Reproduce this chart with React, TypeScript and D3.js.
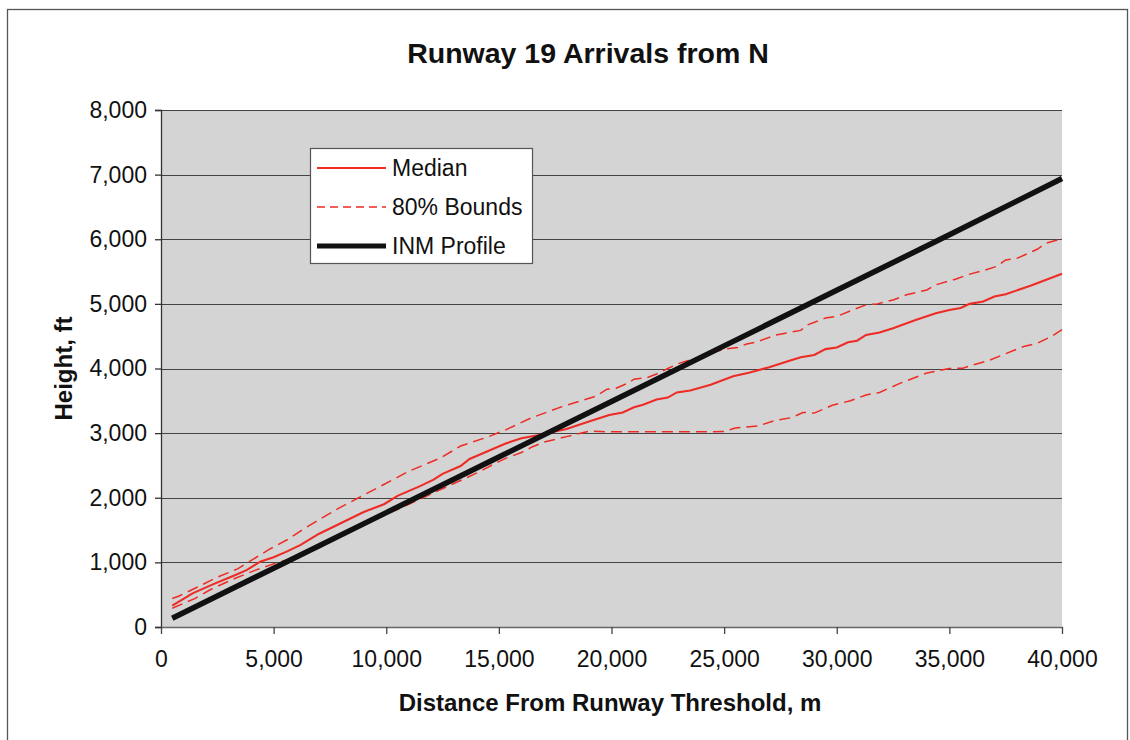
import React, { useEffect, useRef } from "react";
import * as d3 from "d3";

// distance from threshold (m), height (ft)
const median: [number, number][] = [
  [500, 330], [1400, 520], [2300, 660], [3200, 790], [3800, 880], [4400, 1010],
  [5000, 1080], [5600, 1170], [6200, 1270], [7000, 1440], [8000, 1610], [9000, 1780],
  [9900, 1900], [10500, 2030], [11500, 2180], [12100, 2280], [12500, 2370], [13300, 2490],
  [13700, 2600], [14500, 2720], [15300, 2840], [16000, 2920], [16800, 2970], [18000, 3065],
  [19000, 3180], [19900, 3280], [20500, 3320], [21000, 3400], [21400, 3440], [22000, 3520],
  [22500, 3550], [22900, 3630], [23500, 3660], [24400, 3750], [25400, 3880], [26100, 3935],
  [27000, 4020], [27900, 4120], [28400, 4175], [29000, 4210], [29500, 4300], [30000, 4325],
  [30500, 4405], [30900, 4430], [31300, 4520], [31900, 4556], [32500, 4624], [33500, 4750],
  [34400, 4855], [35000, 4905], [35500, 4935], [35900, 5000], [36500, 5036], [37000, 5113],
  [37500, 5150], [38600, 5280], [40000, 5465],
];

const upper: [number, number][] = [
  [500, 440], [800, 480], [1600, 615], [2500, 770], [3400, 900], [4100, 1050],
  [4800, 1200], [5600, 1350], [6300, 1510], [6800, 1615], [7900, 1840], [9700, 2170],
  [11000, 2410], [12400, 2615], [13300, 2800], [14500, 2940], [15300, 3050], [16400, 3230],
  [17800, 3410], [19300, 3570], [19800, 3680], [20200, 3695], [20700, 3770], [21000, 3835],
  [21600, 3860], [22000, 3915], [22500, 4000], [23000, 4080], [24000, 4190], [25000, 4300],
  [25600, 4325], [26000, 4380], [26400, 4405], [27300, 4520], [28400, 4590], [28700, 4675],
  [29500, 4780], [30000, 4805], [30700, 4905], [31300, 4985], [31800, 5000], [32500, 5060],
  [33100, 5140], [34000, 5215], [34400, 5295], [35300, 5385], [35800, 5450], [36500, 5515],
  [37100, 5580], [37500, 5680], [38000, 5705], [38900, 5845], [39300, 5940], [40000, 6010],
];

const lower: [number, number][] = [
  [500, 290], [1500, 440], [2200, 580], [3200, 740], [4200, 880], [5100, 990],
  [5900, 1070], [7000, 1220], [8000, 1400], [9000, 1580], [10000, 1740], [11000, 1900],
  [12000, 2060], [13000, 2220], [14000, 2380], [15000, 2560], [15300, 2610], [16000, 2700],
  [16500, 2790], [17000, 2860], [18000, 2946], [19000, 3030], [20000, 3020], [22000, 3020],
  [24000, 3020], [25000, 3025], [25500, 3080], [26500, 3110], [27200, 3190], [28000, 3240],
  [28500, 3320], [29000, 3310], [29800, 3430], [30600, 3500], [31300, 3590], [31900, 3630],
  [32800, 3770], [34000, 3930], [35000, 4000], [35600, 4005], [36000, 4050], [36800, 4130],
  [37500, 4230], [38300, 4340], [38900, 4390], [39500, 4490], [40000, 4600],
];

const inmProfile: [number, number][] = [
  [500, 136], [5000, 910], [10000, 1770], [15000, 2630], [20000, 3490],
  [25000, 4350], [30000, 5210], [35000, 6070], [40000, 6940],
];

const xTicks = [0, 5000, 10000, 15000, 20000, 25000, 30000, 35000, 40000];
const yTicks = [0, 1000, 2000, 3000, 4000, 5000, 6000, 7000, 8000];

const legendItems = [
  { label: "Median", color: "#ee2b24", width: 1.8, dash: "" },
  { label: "80% Bounds", color: "#ee2b24", width: 1.3, dash: "8,5" },
  { label: "INM Profile", color: "#111", width: 5, dash: "" },
];

const App: React.FC = () => {
  const svgRef = useRef<SVGSVGElement | null>(null);

  useEffect(() => {
    if (!svgRef.current) return;
    const width = 1130;
    const height = 740;
    const margin = { top: 110, right: 68, bottom: 113, left: 161 };
    const font = "'Liberation Sans', Arial, sans-serif";

    d3.select(svgRef.current).selectAll("*").remove();
    const svg = d3.select(svgRef.current)
      .attr("width", width)
      .attr("height", height)
      .style("font-family", font);

    svg.append("rect").attr("width", width).attr("height", height).attr("fill", "#fff");
    // outer chart border
    svg.append("rect")
      .attr("x", 7.5).attr("y", 9.5)
      .attr("width", 1120).attr("height", 740)
      .attr("fill", "none").attr("stroke", "#555").attr("stroke-width", 1.3);

    const x = d3.scaleLinear().domain([0, 40000]).range([margin.left, width - margin.right]);
    const y = d3.scaleLinear().domain([0, 8000]).range([height - margin.bottom, margin.top]);

    svg.append("rect")
      .attr("x", x(0)).attr("y", y(8000))
      .attr("width", x(40000) - x(0)).attr("height", y(0) - y(8000))
      .attr("fill", "#d4d4d4");

    // gridlines
    svg.append("g")
      .selectAll("line")
      .data(yTicks.filter((d) => d > 0))
      .enter()
      .append("line")
      .attr("x1", x(0)).attr("x2", x(40000))
      .attr("y1", (d) => Math.round(y(d)) + 0.5).attr("y2", (d) => Math.round(y(d)) + 0.5)
      .attr("stroke", "#444").attr("stroke-width", 1.1);

    const fmt = d3.format(",");

    // y axis
    const yAxis = svg.append("g")
      .attr("transform", `translate(${x(0)},0)`)
      .call(d3.axisLeft(y).tickValues(yTicks).tickFormat((d) => fmt(d as number)).tickSize(6).tickPadding(8));
    yAxis.select(".domain").attr("stroke", "#333").attr("stroke-width", 1.3);
    yAxis.selectAll(".tick line").attr("stroke", "#333").attr("stroke-width", 1.3);
    yAxis.selectAll("text").attr("font-size", 23).attr("fill", "#111").attr("font-family", font);

    // x axis
    const xAxis = svg.append("g")
      .attr("transform", `translate(0,${y(0)})`)
      .call(d3.axisBottom(x).tickValues(xTicks).tickFormat((d) => fmt(d as number)).tickSize(7).tickSizeOuter(0).tickPadding(17));
    xAxis.select(".domain").attr("stroke", "#666").attr("stroke-width", 1.5);
    xAxis.selectAll(".tick line").attr("stroke", "#444").attr("stroke-width", 1.3);
    xAxis.selectAll("text").attr("font-size", 23).attr("fill", "#111").attr("font-family", font);

    const line = d3.line<[number, number]>()
      .x((d) => x(d[0]))
      .y((d) => y(d[1]));

    const plot = svg.append("g");
    plot.append("path").datum(lower).attr("d", line)
      .attr("fill", "none").attr("stroke", "#ee2b24").attr("stroke-width", 1.5).attr("stroke-dasharray", "11,6");
    plot.append("path").datum(upper).attr("d", line)
      .attr("fill", "none").attr("stroke", "#ee2b24").attr("stroke-width", 1.5).attr("stroke-dasharray", "11,6");
    plot.append("path").datum(median).attr("d", line)
      .attr("fill", "none").attr("stroke", "#ee2b24").attr("stroke-width", 2.1);
    plot.append("path").datum(inmProfile).attr("d", line)
      .attr("fill", "none").attr("stroke", "#111").attr("stroke-width", 5.5);

    // title
    svg.append("text")
      .attr("x", 588).attr("y", 63)
      .attr("text-anchor", "middle")
      .style("font-size", "28.5px").style("font-weight", "bold")
      .attr("fill", "#111")
      .text("Runway 19 Arrivals from N");

    svg.append("text")
      .attr("x", 610).attr("y", 711)
      .attr("text-anchor", "middle")
      .style("font-size", "24px").style("font-weight", "bold")
      .attr("fill", "#111")
      .text("Distance From Runway Threshold, m");

    svg.append("text")
      .attr("transform", `translate(72,${(y(0) + y(8000)) / 2}) rotate(-90)`)
      .attr("text-anchor", "middle")
      .style("font-size", "24px").style("font-weight", "bold")
      .attr("fill", "#111")
      .text("Height, ft");

    // legend
    const legend = svg.append("g").attr("transform", "translate(310,148)");
    legend.append("rect")
      .attr("x", 0.5).attr("y", 0.5).attr("width", 222).attr("height", 115)
      .attr("fill", "#fff").attr("stroke", "#555").attr("stroke-width", 1.2);
    const rows = legend.selectAll("g.item")
      .data(legendItems)
      .enter()
      .append("g")
      .attr("class", "item")
      .attr("transform", (_d, i) => `translate(0,${20 + i * 39})`);
    rows.append("line")
      .attr("x1", 7).attr("x2", 76)
      .attr("stroke", (d) => d.color)
      .attr("stroke-width", (d) => d.width)
      .attr("stroke-dasharray", (d) => d.dash || null);
    rows.append("text")
      .attr("x", 82).attr("y", 8)
      .style("font-size", "23px")
      .attr("fill", "#111")
      .text((d) => d.label);
  }, []);

  return (
    <div style={{ position: "fixed", left: 0, top: 0 }}>
      <svg ref={svgRef}></svg>
    </div>
  );
};

export default App;
